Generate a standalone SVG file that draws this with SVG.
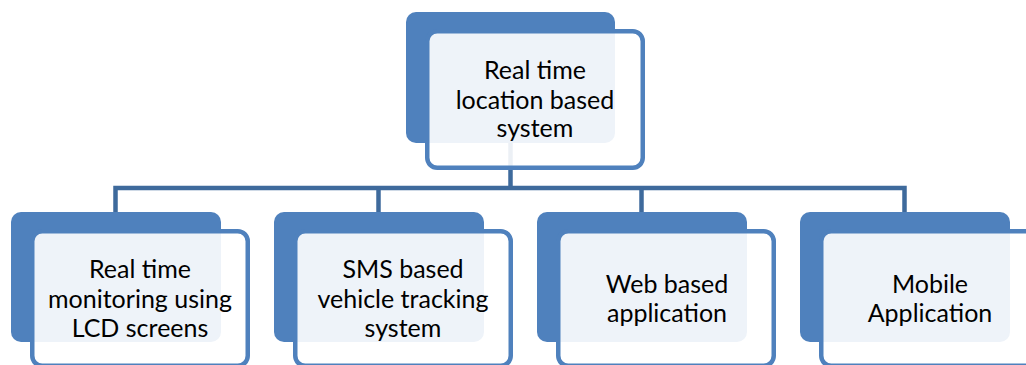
<svg xmlns="http://www.w3.org/2000/svg" width="1026" height="365" viewBox="0 0 1026 365">
<style>
.back{fill:#4F81BD}
.front{fill:#FFFFFF;fill-opacity:0.9;stroke:#4F81BD;stroke-width:4.5}
.conn{fill:none;stroke:#3E6A9C;stroke-width:4.5}
text{font-family:Lato,"Liberation Sans",sans-serif;font-size:25px;fill:#000;text-anchor:middle}
</style>
<rect width="1026" height="365" fill="#FFFFFF"/>
<g id="connectors">
<path class="conn" d="M510.5 143V188"/>
<path class="conn" d="M115.5 212V188H904.5V212"/>
<path class="conn" d="M378.5 188V212"/>
<path class="conn" d="M641.5 188V212"/>
</g>
<g id="node-root">
<rect class="back" x="406" y="12" width="209" height="131" rx="10"/>
<rect class="front" x="427.25" y="31.25" width="215.5" height="136.5" rx="10"/>
<text x="535" y="79">Real time</text>
<text x="535" y="108.5">location based</text>
<text x="535" y="137">system</text>
</g>
<g id="node-lcd">
<rect class="back" x="11" y="212" width="210" height="130" rx="10"/>
<rect class="front" x="32.25" y="231.25" width="215.5" height="134.5" rx="10"/>
<text x="140" y="277.5">Real time</text>
<text x="140" y="307.5">monitoring using</text>
<text x="140" y="337">LCD screens</text>
</g>
<g id="node-sms">
<rect class="back" x="274" y="212" width="210" height="130" rx="10"/>
<rect class="front" x="295.25" y="231.25" width="215.5" height="134.5" rx="10"/>
<text x="403" y="277.5">SMS based</text>
<text x="403" y="307.5">vehicle tracking</text>
<text x="403" y="337">system</text>
</g>
<g id="node-web">
<rect class="back" x="537" y="212" width="210" height="130" rx="10"/>
<rect class="front" x="558.25" y="231.25" width="215.5" height="134.5" rx="10"/>
<text x="667" y="292.5">Web based</text>
<text x="667" y="322">application</text>
</g>
<g id="node-mobile">
<rect class="back" x="800" y="212" width="210" height="130" rx="10"/>
<rect class="front" x="821.25" y="231.25" width="215.5" height="134.5" rx="10"/>
<text x="930" y="292.5">Mobile</text>
<text x="930" y="322">Application</text>
</g>
</svg>
